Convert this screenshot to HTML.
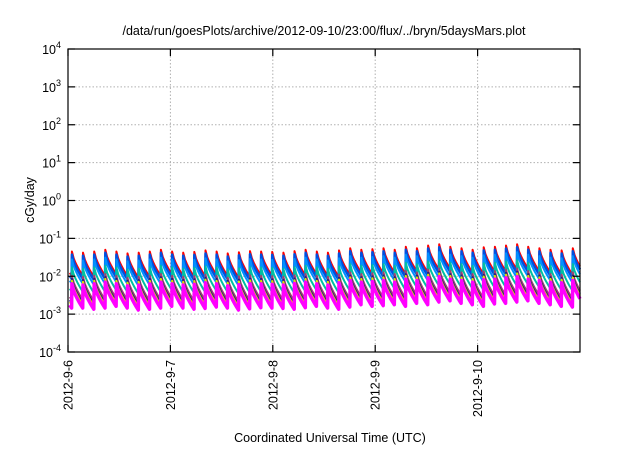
<!DOCTYPE html>
<html><head><meta charset="utf-8">
<style>
html,body{margin:0;padding:0;background:#fff;}
body{width:640px;height:448px;overflow:hidden;font-family:"Liberation Sans",sans-serif;}
svg text{font-family:"Liberation Sans",sans-serif;fill:#000;}
</style></head>
<body>
<svg id="chart" width="640" height="448">
  <text x="324" y="35" font-size="12.5" text-anchor="middle">/data/run/goesPlots/archive/2012-09-10/23:00/flux/../bryn/5daysMars.plot</text>
  <g id="grid"></g>
  <g id="series"></g>
  <rect x="68" y="49" width="512" height="303" fill="none" stroke="#000" stroke-width="1.2"/>
  <g id="axes"></g>
  <text x="0" y="0" font-size="12.5" text-anchor="middle" transform="translate(34,200) rotate(-90)">cGy/day</text>
  <text x="330" y="442" font-size="12.5" text-anchor="middle">Coordinated Universal Time (UTC)</text>
</svg>
<script>
const yExponents = [-4,-3,-2,-1,0,1,2,3,4];
const xTickLabels = ["2012-9-6","2012-9-7","2012-9-8","2012-9-9","2012-9-10"];
const xTickDays = [0,1,2,3,4];
// red-series peak values per cycle (46 cycles over 5 days)
const peakValues = [0.045,0.042,0.045,0.05,0.045,0.04,0.042,0.045,0.05,
  0.045,0.042,0.044,0.048,0.045,0.04,0.043,0.046,0.045,
  0.044,0.042,0.046,0.05,0.045,0.042,0.048,0.055,0.05,0.052,
  0.055,0.05,0.06,0.055,0.065,0.07,0.06,0.055,0.05,0.058,
  0.06,0.065,0.07,0.06,0.055,0.05,0.048,0.055];
const troughRatio = 0.23;
const seriesNames = ["red","blue","light-blue","teal","maroon","navy","yellow","magenta"];
const seriesColors = ["#ff0000","#0050e0","#0090ff","#00c0a0","#a04070","#202080","#e0e000","#ff00ff"];
const seriesScale = [1,0.83,0.62,0.38,0.23,0.19,0.17,0.14];
const seriesWidth = [2,2.5,2,2,2,2,2,3.5];

const X0=68, X1=580, Y0=49, Y1=352, NDAYS=5;
const xScale = d => X0 + d/NDAYS*(X1-X0);
const yScale = v => Y1 - (Math.log10(v)+4)/8*(Y1-Y0);
const NS="http://www.w3.org/2000/svg";
function mk(tag, attrs){const e=document.createElementNS(NS,tag);for(const k in attrs)e.setAttribute(k,attrs[k]);return e;}
const grid=document.getElementById('grid'), axes=document.getElementById('axes'), ser=document.getElementById('series');

yExponents.forEach(ex=>{
  const y=yScale(Math.pow(10,ex));
  if(ex>-4&&ex<4){
    const g=mk('line',{x1:X0,x2:X1,y1:y,y2:y,stroke:'#b0b0b0','stroke-dasharray':'1.5,2','stroke-width':1});
    
    
    grid.appendChild(g);
  }
  [[X0,X0+7],[X1-7,X1]].forEach(p=>{
    const t=mk('line',{x1:p[0],x2:p[1],y1:y,y2:y,stroke:'#000','stroke-width':1.2});
    
    
    axes.appendChild(t);
  });
  const lab=mk('text',{x:X0-7,y:y+5,'font-size':12.5,'text-anchor':'end'});
  
  
  const b=mk('tspan',{});b.textContent='10';
  const s=mk('tspan',{dy:-6,'font-size':9});s.textContent=String(ex);
  lab.appendChild(b);lab.appendChild(s);
  axes.appendChild(lab);
});
xTickDays.forEach((d,i)=>{
  const x=xScale(d);
  if(d>0){
    const g=mk('line',{x1:x,x2:x,y1:Y0,y2:Y1,stroke:'#b0b0b0','stroke-dasharray':'1.5,2','stroke-width':1});
    
    
    grid.appendChild(g);
  }
  [[Y1-7,Y1],[Y0,Y0+7]].forEach(p=>{
    const t=mk('line',{x1:x,x2:x,y1:p[0],y2:p[1],stroke:'#000','stroke-width':1.2});
    
    
    axes.appendChild(t);
  });
  const lab=mk('text',{x:0,y:0,'font-size':12.5,'text-anchor':'end',transform:`translate(${x+4.5},${Y1+8}) rotate(-90)`});
  
  
  lab.textContent=xTickLabels[i];
  axes.appendChild(lab);
});

const n=peakValues.length, per=NDAYS/n, offset=0.35;
seriesNames.forEach((nm,si)=>{
  let pts=[];
  for(let i=-1;i<n;i++){
    const pk=peakValues[Math.max(i,0)]*seriesScale[si];
    const tr=pk*troughRatio;
    const t0=(i+offset)*per;
    const steps=6;
    for(let k=0;k<=steps;k++){
      const f=k/steps;
      const t=t0+f*per*0.97;
      const v=pk*Math.pow(tr/pk,Math.pow(f,0.7));
      if(t>=0&&t<=NDAYS)pts.push([xScale(t),yScale(v)]);
    }
  }
  const d='M'+pts.map(p=>p[0].toFixed(1)+','+p[1].toFixed(1)).join('L');
  const path=mk('path',{d:d,fill:'none',stroke:seriesColors[si],'stroke-width':seriesWidth[si],'stroke-linejoin':'round'});
  
  
  ser.appendChild(path);
});
</script>
</body></html>
